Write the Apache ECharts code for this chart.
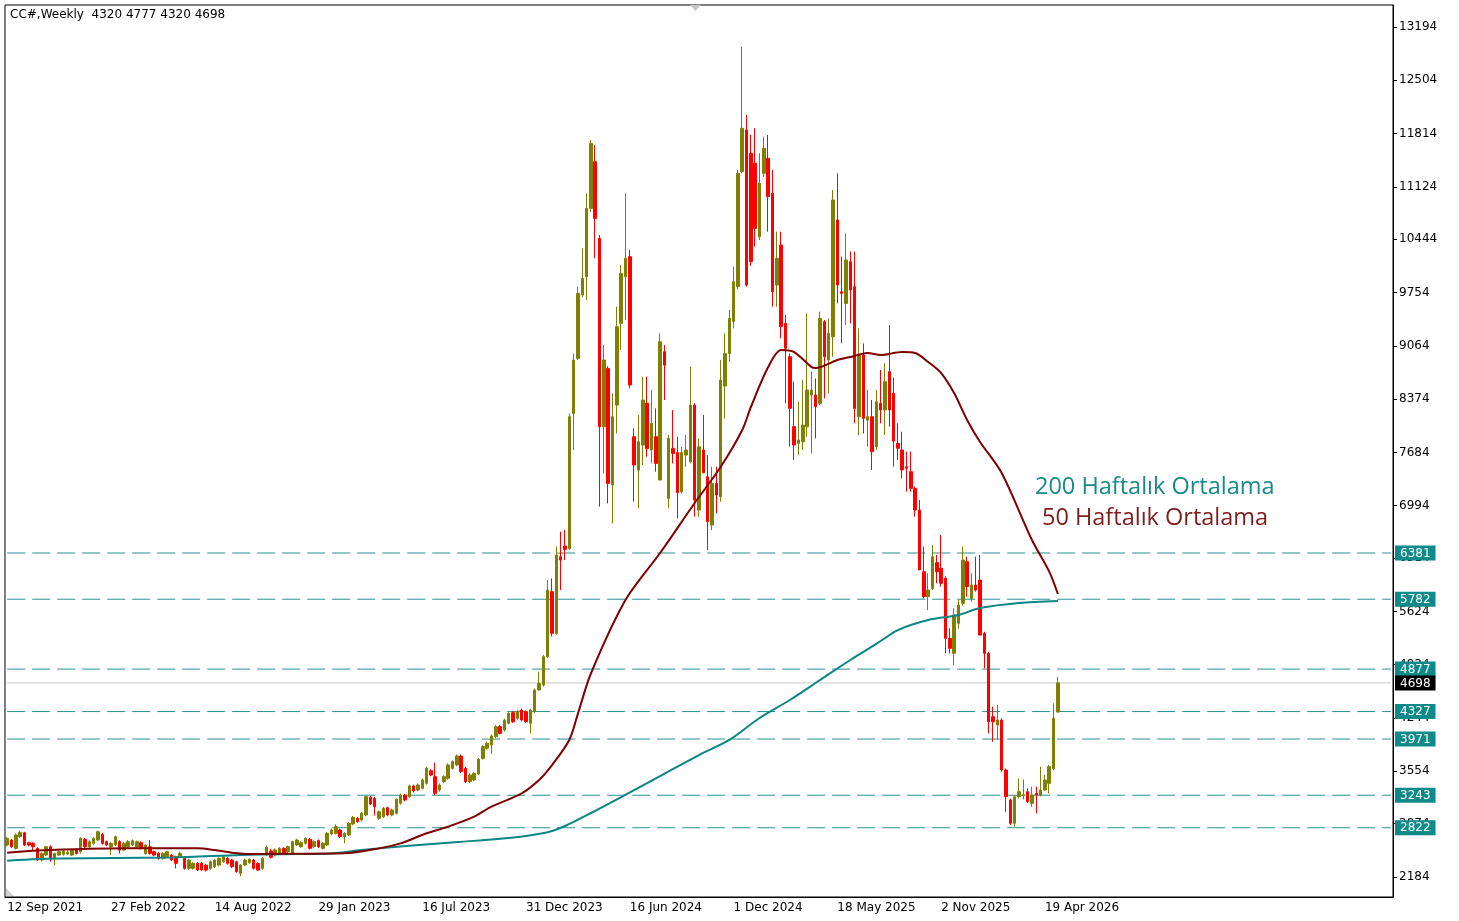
<!DOCTYPE html>
<html>
<head>
<meta charset="utf-8">
<title>CC# Weekly</title>
<script src="https://cdn.jsdelivr.net/npm/echarts@6/dist/echarts.min.js"></script>
<style>
    html, body { margin: 0; padding: 0; background: #fff; }
    #chart { width: 1459px; height: 921px; }
</style>
</head>
<body>
<div id="chart"></div>
<script>
// haftalık mum verisi: [open, close, low, high], 12 Sep 2021'den itibaren
const ohlc = [
    [2598, 2684, 2580, 2700], [2663, 2576, 2560, 2680], [2555, 2728, 2540, 2749], [2706, 2762, 2690, 2784],
    [2758, 2598, 2585, 2770], [2628, 2598, 2580, 2640], [2620, 2576, 2533, 2635], [2555, 2404, 2390, 2570],
    [2404, 2490, 2385, 2500], [2469, 2576, 2455, 2590], [2576, 2425, 2382, 2595], [2425, 2490, 2339, 2500],
    [2469, 2512, 2455, 2525], [2480, 2520, 2460, 2535], [2481, 2503, 2470, 2540], [2469, 2533, 2455, 2550],
    [2546, 2490, 2475, 2560], [2512, 2684, 2490, 2700], [2671, 2576, 2560, 2690], [2576, 2641, 2560, 2660],
    [2620, 2684, 2600, 2700], [2663, 2771, 2650, 2784], [2736, 2620, 2605, 2755], [2641, 2598, 2585, 2655],
    [2576, 2620, 2469, 2635], [2598, 2706, 2585, 2720], [2641, 2533, 2490, 2660], [2533, 2620, 2520, 2635],
    [2576, 2641, 2560, 2660], [2598, 2654, 2585, 2670], [2576, 2641, 2560, 2655], [2628, 2555, 2540, 2645],
    [2490, 2598, 2475, 2610], [2576, 2490, 2475, 2663], [2512, 2469, 2455, 2525], [2490, 2425, 2410, 2505],
    [2425, 2490, 2410, 2505], [2447, 2512, 2435, 2525], [2469, 2404, 2390, 2480], [2447, 2361, 2296, 2460],
    [2447, 2490, 2435, 2505], [2425, 2296, 2280, 2440], [2296, 2404, 2274, 2420], [2296, 2361, 2280, 2375],
    [2361, 2274, 2260, 2375], [2361, 2274, 2260, 2380], [2339, 2274, 2253, 2350], [2296, 2382, 2280, 2395],
    [2317, 2404, 2300, 2420], [2339, 2425, 2325, 2440], [2382, 2447, 2370, 2460], [2425, 2361, 2345, 2440],
    [2404, 2317, 2300, 2420], [2382, 2253, 2240, 2395], [2231, 2339, 2196, 2350], [2339, 2404, 2325, 2420],
    [2369, 2412, 2355, 2425], [2404, 2296, 2280, 2420], [2361, 2274, 2260, 2375], [2296, 2425, 2280, 2440],
    [2469, 2570, 2455, 2590], [2520, 2440, 2425, 2550], [2469, 2534, 2455, 2555], [2491, 2555, 2475, 2570],
    [2555, 2491, 2475, 2570], [2512, 2577, 2495, 2590], [2491, 2642, 2480, 2655], [2599, 2663, 2585, 2680],
    [2577, 2629, 2560, 2645], [2620, 2685, 2605, 2700], [2672, 2555, 2540, 2690], [2577, 2642, 2560, 2660],
    [2655, 2577, 2560, 2670], [2555, 2620, 2540, 2635], [2599, 2750, 2585, 2765], [2741, 2793, 2725, 2810],
    [2750, 2836, 2735, 2866], [2793, 2707, 2690, 2810], [2707, 2750, 2620, 2765], [2728, 2879, 2715, 2895],
    [2871, 2957, 2855, 2975], [2944, 2901, 2885, 2960], [2922, 3009, 2905, 3025], [2987, 3225, 2970, 3240],
    [3216, 3130, 3115, 3235], [3203, 3095, 2980, 3220], [2944, 3030, 2925, 3045], [2966, 3074, 2950, 3090],
    [3082, 2987, 2970, 3095], [2987, 3052, 2970, 3070], [3009, 3190, 2995, 3205], [3138, 3246, 3120, 3265],
    [3246, 3182, 3165, 3260], [3225, 3363, 3210, 3380], [3363, 3298, 3280, 3380], [3311, 3376, 3295, 3395],
    [3333, 3441, 3320, 3460], [3397, 3592, 3380, 3610], [3561, 3505, 3490, 3580], [3484, 3268, 3246, 3665],
    [3311, 3376, 3290, 3395], [3419, 3484, 3400, 3500], [3462, 3635, 3445, 3655], [3592, 3678, 3575, 3695],
    [3635, 3751, 3620, 3770], [3751, 3549, 3530, 3770], [3592, 3419, 3400, 3610], [3419, 3505, 3400, 3525],
    [3441, 3527, 3425, 3545], [3518, 3708, 3500, 3725], [3721, 3872, 3705, 3890], [3851, 3916, 3835, 3935],
    [3894, 4011, 3780, 4030], [4002, 4131, 3985, 4150], [4131, 4045, 4030, 4150], [4088, 4218, 4070, 4235],
    [4175, 4304, 4160, 4320], [4313, 4196, 4180, 4330], [4239, 4326, 4220, 4345], [4347, 4218, 4200, 4365],
    [4326, 4196, 4180, 4340], [4175, 4347, 4045, 4365], [4326, 4606, 4310, 4625], [4606, 4692, 4600, 4843],
    [4671, 5038, 4650, 5060], [5038, 5901, 5020, 6031], [5880, 5340, 5300, 6052], [5340, 6355, 5320, 6463],
    [6333, 6290, 5901, 6657], [6471, 6428, 6290, 6678], [6440, 8146, 6419, 8189], [8189, 8880, 7714, 8966],
    [8902, 9744, 8880, 9830], [9722, 9938, 9700, 10327], [9960, 10845, 9657, 11039], [10845, 11687, 10800, 11730],
    [11449, 10715, 10197, 11665], [10456, 8016, 6980, 10500], [8016, 8880, 7412, 9074], [8772, 7282, 7023, 8800],
    [7261, 8146, 6764, 8448], [8297, 9312, 7930, 9571], [9355, 10003, 9010, 10111], [9960, 10197, 9398, 11039],
    [10219, 8556, 8513, 10305], [7887, 7520, 7045, 7995], [7455, 7822, 6959, 8167], [7779, 8362, 7520, 8664],
    [8319, 7736, 7628, 8664], [7714, 8060, 7541, 8491], [7887, 7541, 7434, 8254], [7326, 9118, 7326, 9226],
    [8988, 8815, 8362, 9074], [7088, 7865, 6959, 7909], [7736, 7671, 7541, 8232], [7680, 7162, 6829, 7887],
    [7174, 7680, 7153, 7757], [7649, 7714, 7498, 7909], [7563, 8297, 7541, 8794], [8297, 7067, 6851, 8320],
    [6937, 7757, 6851, 7865], [7714, 7421, 7412, 8168], [7368, 6786, 6419, 7649], [6743, 7282, 6678, 7498],
    [7282, 7131, 6894, 7498], [7110, 8621, 7045, 8880], [8543, 8966, 8124, 9226], [8966, 9420, 8858, 9528],
    [9380, 9895, 9291, 10090], [9831, 11299, 9800, 11342], [11320, 11882, 11299, 12940], [11860, 9852, 9831, 12054],
    [11558, 10155, 10100, 11800], [11428, 10586, 10349, 11882], [10478, 11169, 10435, 11558], [11299, 11623, 11250, 11774],
    [11493, 10997, 10543, 11795], [11040, 9766, 9572, 11342], [9852, 10198, 9572, 10543], [10370, 9313, 9161, 10543],
    [9356, 9032, 8319, 9464], [8924, 8255, 7758, 8967], [8017, 7780, 7585, 8600], [7801, 7844, 7650, 8340],
    [7822, 8038, 7714, 8621], [8017, 8492, 7887, 9485], [8427, 8492, 7671, 8729], [8427, 8276, 7865, 8643],
    [8319, 9420, 8297, 9506], [9377, 8923, 8384, 9398], [8880, 9226, 8448, 9420], [9182, 10953, 8923, 11082],
    [10694, 9852, 9614, 11298], [9765, 9744, 9096, 10219], [9614, 10176, 9334, 10521], [10154, 9787, 9355, 10284],
    [9830, 8254, 8060, 10284], [8146, 8945, 7909, 9290], [8945, 8125, 7930, 9096], [8103, 8146, 7758, 8492],
    [8146, 7693, 7455, 8362], [7758, 8340, 7714, 8492], [8319, 8233, 8060, 8751], [8233, 8600, 7909, 8838],
    [8729, 8233, 8017, 9334], [8450, 7830, 7500, 8650], [7801, 7737, 7585, 8060], [7715, 7456, 7348, 7952],
    [7499, 7478, 7175, 7693], [7434, 7218, 7175, 7693], [7218, 6938, 6851, 7240], [6938, 6161, 6161, 7067],
    [6139, 5815, 5793, 6463], [5815, 5901, 5642, 6117], [5923, 6333, 5901, 6484], [6256, 6139, 5988, 6355],
    [6182, 5988, 5945, 6614], [6053, 5275, 5081, 6080], [5275, 5146, 5081, 5405], [5081, 5578, 4930, 5664],
    [5470, 5707, 5400, 5772], [5729, 6290, 5700, 6463], [6268, 5945, 5815, 6333], [5793, 5966, 5750, 6117],
    [5966, 5901, 5880, 6333], [6031, 5318, 5318, 6355], [5340, 5081, 4887, 5360], [5081, 4196, 4045, 5100],
    [4260, 4196, 3937, 4390], [4153, 4217, 3958, 4412], [4217, 3570, 3548, 4240], [3570, 3224, 3030, 3590],
    [3181, 2879, 2857, 3200], [2879, 3224, 2836, 3246], [3224, 3289, 3200, 3462], [3240, 3250, 3189, 3449],
    [3289, 3159, 3140, 3332], [3138, 3246, 3095, 3354], [3267, 3246, 3008, 3354], [3246, 3311, 3230, 3613],
    [3311, 3440, 3300, 3505], [3397, 3613, 3267, 3635], [3591, 4239, 3570, 4433], [4320, 4698, 4320, 4777]
];

// hareketli ortalamalar, grafikten okunan noktalar: [hafta sırası, değer]
const ma50 = [
    [0, 2499], [6, 2525], [28, 2555], [44, 2555], [48, 2533], [52, 2499], [56, 2481], [63, 2485],
    [78, 2491], [86, 2555], [91, 2620], [97, 2750], [102, 2836], [108, 2965], [112, 3095], [119, 3268],
    [123, 3440], [126, 3634], [130, 3959], [132, 4300], [135, 4820], [143, 5772], [151, 6381], [159, 7028],
    [165, 7495], [170, 7974], [172, 8272], [176, 8790], [179, 9010], [182, 8984], [186, 8790], [187, 8777],
    [192, 8881], [195, 8920], [199, 8971], [202, 8945], [207, 8984], [210, 8971], [213, 8855], [216, 8712],
    [219, 8453], [222, 8104], [225, 7819], [230, 7417], [237, 6549], [241, 6140], [243, 5850]
];
const ma200 = [
    [0, 2395], [7, 2417], [12, 2425], [38, 2438], [54, 2470], [63, 2480], [74, 2485], [82, 2534],
    [93, 2590], [105, 2640], [116, 2690], [125, 2765], [129, 2845], [135, 3013], [142, 3220], [151, 3492],
    [160, 3764], [167, 3959], [174, 4244], [181, 4477], [188, 4736], [195, 4995], [201, 5203], [206, 5383],
    [213, 5513], [220, 5578], [225, 5668], [234, 5733], [243, 5759]
];

// yatay seviyeler ve son fiyat
const levels = [6381, 5782, 4877, 4327, 3971, 3243, 2822];
const lastPrice = 4698;

// sağ eksen etiketleri
const yTicks = [2184, 2874, 3554, 4244, 4934, 5624, 6314, 6994, 7684, 8374, 9064, 9754, 10444, 11124, 11814, 12504, 13194];

// haftalık tarih kategorileri (sağdaki boşluk dahil)
const monthNames = ['Jan', 'Feb', 'Mar', 'Apr', 'May', 'Jun', 'Jul', 'Aug', 'Sep', 'Oct', 'Nov', 'Dec'];
const slotCount = 321;
const firstWeek = Date.UTC(2021, 8, 12);
const weeks = [];
for (let i = 0; i < slotCount; i++) {
    const d = new Date(firstWeek + i * 7 * 86400000);
    weeks.push(d.getUTCDate() + ' ' + monthNames[d.getUTCMonth()] + ' ' + d.getUTCFullYear());
}

const labelEvery = (idx) => idx % 24 === 0 && idx < ohlc.length;
const yMin = 1925;
const yMax = 13479;

// yatay çizgiler: tüm genişlik boyunca iki uçlu seri
const hLine = (v, color, type) => ({
    type: 'line',
    data: [[0, v], [slotCount - 1, v]],
    showSymbol: false,
    silent: true,
    z: 1,
    lineStyle: { color: color, type: type, width: 1 }
});

const levelSeries = levels.map((v) => hLine(v, '#2a9090', [18, 7]));
levelSeries.push(hLine(lastPrice, '#c8c8c8', 'solid'));

const chart = echarts.init(document.getElementById('chart'));

chart.setOption({
    animation: false,
    backgroundColor: '#fff',
    grid: {
        left: 5,
        right: 66,
        top: 5,
        bottom: 24,
        show: true,
        borderColor: '#000',
        borderWidth: 1
    },
    xAxis: {
        type: 'category',
        data: weeks,
        boundaryGap: true,
        axisLine: { lineStyle: { color: '#000' } },
        axisTick: { interval: labelEvery, alignWithLabel: true, length: 4, lineStyle: { color: '#000' } },
        axisLabel: {
            interval: labelEvery,
            align: 'left',
            color: '#000',
            fontSize: 12,
            fontFamily: 'DejaVu Sans',
            margin: 5
        },
        splitLine: { show: false }
    },
    yAxis: [
        {
            type: 'value',
            position: 'right',
            min: yMin,
            max: yMax,
            axisLine: { show: true, lineStyle: { color: '#000' } },
            axisTick: { show: true, length: 4, customValues: yTicks, lineStyle: { color: '#000' } },
            axisLabel: {
                customValues: yTicks,
                formatter: (v) => String(v),
                color: '#000',
                fontSize: 12,
                fontFamily: 'DejaVu Sans',
                margin: 6
            },
            splitLine: { show: false }
        },
        {
            // seviye kutuları
            type: 'value',
            position: 'right',
            min: yMin,
            max: yMax,
            z: 5,
            axisLine: { show: false },
            axisTick: { show: false },
            axisLabel: {
                customValues: levels.concat([lastPrice]),
                margin: 2,
                formatter: (v) => (v === lastPrice ? '{last|' + v + '}' : '{lvl|' + v + '}'),
                rich: {
                    lvl: {
                        color: '#fff',
                        backgroundColor: '#0f8a8a',
                        padding: [2, 5, 1, 5],
                        fontSize: 12,
                        fontFamily: 'DejaVu Sans'
                    },
                    last: {
                        color: '#fff',
                        backgroundColor: '#000',
                        padding: [2, 5, 1, 5],
                        fontSize: 12,
                        fontFamily: 'DejaVu Sans'
                    }
                }
            },
            splitLine: { show: false }
        }
    ],
    series: levelSeries.concat([
        {
            name: 'CC#',
            type: 'candlestick',
            data: ohlc,
            barWidth: 3,
            z: 2,
            itemStyle: {
                color: '#808000',
                color0: '#ff0000',
                borderColor: '#808000',
                borderColor0: '#ff0000',
                borderWidth: 1
            }
        },
        {
            name: '200 Haftalık Ortalama',
            type: 'line',
            data: ma200,
            smooth: 0.3,
            showSymbol: false,
            z: 3,
            lineStyle: { color: '#0a8585', width: 2 }
        },
        {
            name: '50 Haftalık Ortalama',
            type: 'line',
            data: ma50,
            smooth: 0.3,
            showSymbol: false,
            z: 3,
            lineStyle: { color: '#800000', width: 2 }
        }
    ]),
    graphic: [
        {
            type: 'text',
            left: 10,
            top: 9,
            style: { text: 'CC#,Weekly  4320 4777 4320 4698', fill: '#000', font: '12px "DejaVu Sans"' }
        },
        {
            type: 'text',
            left: 1035,
            top: 475,
            style: { text: '200 Haftalık Ortalama', fill: '#178a8a', font: '23.5px "Open Sans"' }
        },
        {
            type: 'text',
            left: 1042,
            top: 506,
            style: { text: '50 Haftalık Ortalama', fill: '#7f1d1d', font: '23.5px "Open Sans"' }
        },
        {
            type: 'polygon',
            shape: { points: [[690, 5], [701, 5], [695.5, 11]] },
            style: { fill: '#c8c8c8' }
        },
        {
            type: 'polygon',
            shape: { points: [[6, 888], [6, 896], [14, 896]] },
            style: { fill: '#d0d0d0' }
        }
    ]
});
</script>
</body>
</html>
